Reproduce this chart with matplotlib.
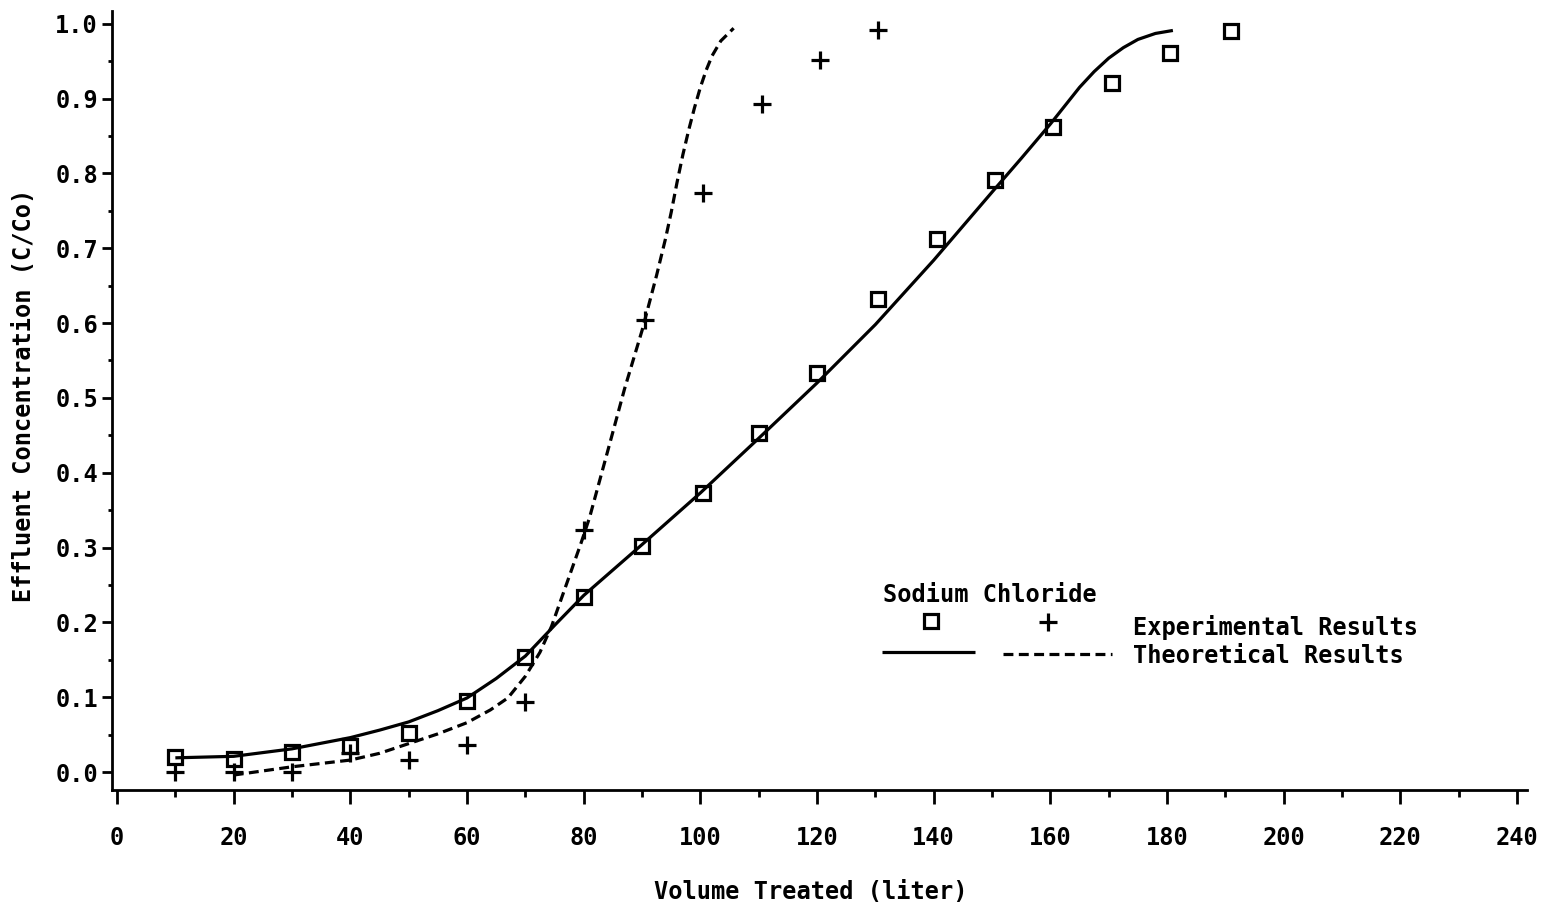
import matplotlib
matplotlib.use("Agg")
import matplotlib.pyplot as plt
from matplotlib.ticker import MultipleLocator, FormatStrFormatter

plt.rcParams['font.family'] = ['DejaVu Sans Mono', 'DejaVu Sans']
plt.rcParams['font.weight'] = 'bold'
FS = 17

# sodium - experimental (squares)
nacl_x = [10, 20, 30, 40, 50, 60, 70, 80, 90, 100.5, 110, 120, 130.5, 140.5, 150.5, 160.5, 170.5, 180.5, 191]
nacl_y = [0.020, 0.018, 0.027, 0.035, 0.052, 0.095, 0.154, 0.234, 0.302, 0.373, 0.453, 0.533,
          0.632, 0.712, 0.791, 0.862, 0.921, 0.961, 0.990]

# chloride - experimental (+)
cl_x = [10, 20, 30, 40, 50, 60, 70, 80, 90.5, 100.5, 110.5, 120.5, 130.5]
cl_y = [0.0, 0.0, 0.0, 0.026, 0.016, 0.036, 0.094, 0.323, 0.604, 0.774, 0.893, 0.952, 0.992]

# sodium - theoretical (solid)
nacl_th_x = [10, 20, 30, 40, 45, 50, 55, 60, 65, 70, 75, 80, 90, 100, 110, 120, 130, 140,
             150, 155, 160, 165, 167.5, 170, 172.5, 175, 178, 181]
nacl_th_y = [0.019, 0.021, 0.031, 0.046, 0.056, 0.067, 0.082, 0.099, 0.125, 0.155, 0.196, 0.236,
             0.304, 0.373, 0.446, 0.520, 0.598, 0.684, 0.775, 0.820, 0.866, 0.915, 0.936, 0.954,
             0.968, 0.979, 0.987, 0.991]

# chloride - theoretical (dashed)
cl_th_x = [20, 30, 40, 45, 50, 55, 60, 64, 67, 70, 72.5, 74.5, 77, 79.5, 81, 84.5, 87, 90,
           92.5, 94, 95, 96, 97, 98, 99, 100, 101, 102, 103.5, 105.7]
cl_th_y = [-0.004, 0.007, 0.016, 0.025, 0.038, 0.051, 0.066, 0.083, 0.099, 0.128, 0.160, 0.195,
           0.250, 0.305, 0.340, 0.440, 0.512, 0.590, 0.664, 0.712, 0.748, 0.788, 0.825, 0.858,
           0.888, 0.915, 0.938, 0.957, 0.977, 0.994]

fig = plt.figure(figsize=(15.47, 9.06), dpi=100)
ax = fig.add_axes([112 / 1547, (906 - 790) / 906, 1415 / 1547, 779 / 906])

LW = 2.3
DASH = (3.1, 1.7)
ax.plot(nacl_th_x, nacl_th_y, color='black', lw=LW, solid_capstyle='butt', solid_joinstyle='round')
ax.plot(cl_th_x, cl_th_y, color='black', lw=LW, dashes=DASH)
ax.plot(nacl_x, nacl_y, 's', ms=10, mfc='none', mec='black', mew=2.3)
ax.plot(cl_x, cl_y, '+', ms=13, mec='black', mew=2.3)

ax.set_xlim(-0.86, 241.7)
ax.set_ylim(-0.024, 1.017)

for s in ['top', 'right']:
    ax.spines[s].set_visible(False)
for s in ['left', 'bottom']:
    ax.spines[s].set_linewidth(2.0)

ax.xaxis.set_major_locator(MultipleLocator(20))
ax.xaxis.set_minor_locator(MultipleLocator(10))
ax.yaxis.set_major_locator(MultipleLocator(0.1))
ax.yaxis.set_minor_locator(MultipleLocator(0.05))
ax.yaxis.set_major_formatter(FormatStrFormatter('%.1f'))
ax.tick_params(axis='x', which='major', length=10, width=2, pad=16, labelsize=FS)
ax.tick_params(axis='x', which='minor', length=5, width=2)
ax.tick_params(axis='y', which='major', length=7, width=2, pad=3, labelsize=FS)
ax.tick_params(axis='y', which='minor', length=3, width=2)

ax.set_xlabel('Volume Treated (liter)', fontsize=FS, fontweight='bold')
ax.xaxis.set_label_coords(0.494, -0.116)
ax.set_ylabel('Effluent Concentration (C/Co)', fontsize=FS, fontweight='bold',
              va='center', ha='center')
ax.yaxis.set_label_coords(-0.062, 0.507)

# hand-made key, as in the original plot
ax.text(131.3, 0.237, 'Sodium Chloride', fontsize=FS, fontweight='bold', va='center', ha='left')
ax.plot([139.6], [0.202], 's', ms=10, mfc='none', mec='black', mew=2.3)
ax.plot([159.6], [0.2005], '+', ms=13, mec='black', mew=2.3)
ax.text(174.2, 0.1925, 'Experimental Results', fontsize=FS, fontweight='bold', va='center', ha='left')
ax.plot([131.1, 147.1], [0.160, 0.160], color='black', lw=LW, solid_capstyle='butt')
ax.plot([151.9, 170.6], [0.158, 0.158], color='black', lw=LW, dashes=DASH)
ax.text(174.2, 0.155, 'Theoretical Results', fontsize=FS, fontweight='bold', va='center', ha='left')

fig.savefig('out.png', dpi=100)
